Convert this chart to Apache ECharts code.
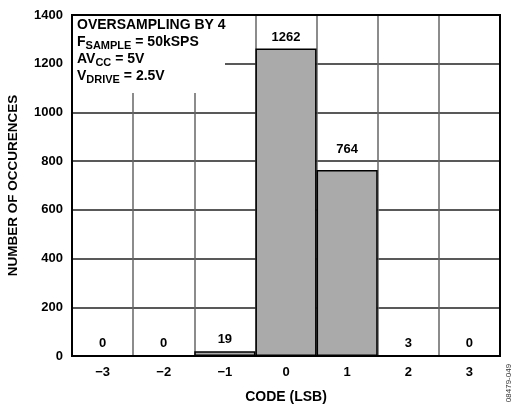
<!DOCTYPE html>
<html lang="en">
<head>
  <meta charset="UTF-8">
  <title>Code histogram</title>
  <script src="https://cdn.jsdelivr.net/npm/echarts@6.0.0/dist/echarts.min.js"></script>
</head>
<body style="margin:0">
  <div id="main" style="width:522px;height:407px;"></div>
  <script type="text/javascript">
    // histogram data
    const codes = ['\u22123', '\u22122', '\u22121', '0', '1', '2', '3'];
    const counts = [0, 0, 19, 1262, 764, 3, 0];
    const yTicks = [0, 200, 400, 600, 800, 1000, 1200, 1400];

    const font = 'Arial, "Liberation Sans", sans-serif';
    let myChart = echarts.init(document.getElementById('main'));

    // the 764 label sits a bit higher in the original
    const barData = counts.map((v, i) => i === 4 ? { value: v, label: { distance: 14 } } : v);

    const options = {
      animation: false,
      grid: {
        left: 72, right: 22, top: 15, bottom: 51,
        outerBoundsMode: 'none', containLabel: false,
        show: true, borderColor: '#000', borderWidth: 2, z: 3
      },
      xAxis: {
        type: 'category',
        data: codes,
        name: 'CODE (LSB)',
        nameLocation: 'middle',
        nameGap: 34,
        nameTextStyle: { fontFamily: font, fontWeight: 'bold', fontSize: 14, color: '#000' },
        axisLine: { show: false },
        axisTick: { show: false },
        axisLabel: { fontFamily: font, fontWeight: 'bold', fontSize: 13, color: '#000', margin: 10 },
        splitLine: { show: true, lineStyle: { color: '#666', width: 1.5 } }
      },
      yAxis: {
        type: 'value',
        min: yTicks[0],
        max: yTicks[yTicks.length - 1],
        interval: 200,
        name: 'NUMBER OF OCCURENCES',
        nameLocation: 'middle',
        nameGap: 52,
        nameTextStyle: { fontFamily: font, fontWeight: 'bold', fontSize: 13.5, color: '#000' },
        axisLine: { show: false },
        axisTick: { show: false },
        axisLabel: { fontFamily: font, fontWeight: 'bold', fontSize: 13, color: '#000', margin: 9, formatter: v => String(v) },
        splitLine: { show: true, lineStyle: { color: '#222', width: 1.5 } }
      },
      series: [{
        type: 'bar',
        data: barData,
        barWidth: '100%',
        z: 4,
        itemStyle: { color: '#aaaaaa', borderColor: '#000', borderWidth: 1.5 },
        label: {
          show: true,
          position: 'top',
          distance: 5,
          fontFamily: font,
          fontWeight: 'bold',
          fontSize: 13,
          color: '#000'
        }
      }],
      graphic: [
        {
          type: 'rect',
          z: 10,
          shape: { x: 73, y: 16, width: 152, height: 77 },
          style: { fill: '#fff' }
        },
        {
          type: 'text',
          z: 11,
          left: 77,
          top: 17,
          style: {
            text: 'OVERSAMPLING BY 4\nF{s|SAMPLE} = 50kSPS\nAV{s|CC} = 5V\nV{s|DRIVE} = 2.5V',
            font: 'bold 14px ' + font,
            fill: '#000',
            lineHeight: 17,
            rich: {
              s: { font: 'bold 11px ' + font, fill: '#000', padding: [6, 0, 0, 0], lineHeight: 17 }
            }
          }
        },
        {
          type: 'text',
          z: 11,
          x: 509,
          y: 383,
          rotation: Math.PI / 2,
          style: { text: '08479-049', font: '8px ' + font, fill: '#333', align: 'center', verticalAlign: 'middle' }
        }
      ]
    };

    myChart.setOption(options);
  </script>
</body>
</html>
